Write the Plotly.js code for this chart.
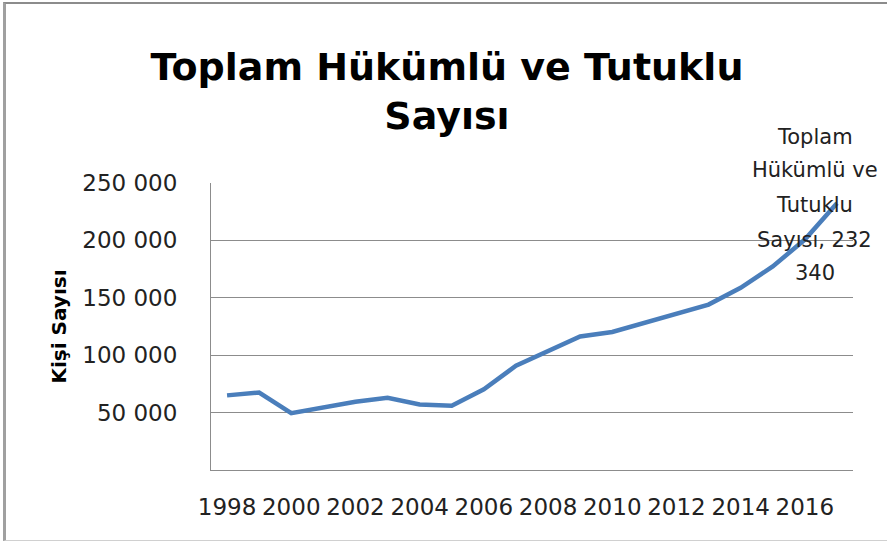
<!DOCTYPE html>
<html><head><meta charset="utf-8">
<script src="https://cdn.plot.ly/plotly-3.0.1.min.js"></script>
<style>
html,body{margin:0;padding:0;background:#fff;}
#wrap{position:absolute;left:3px;top:2px;width:884px;height:539px;border-left:3px solid #a0a0a0;border-top:2px solid #8c8c8c;border-bottom:1px solid #d0d0d0;box-sizing:border-box;}
#chart{position:absolute;left:0;top:0;width:887px;height:542px;}
</style></head>
<body>
<div id="wrap"></div>
<div id="chart"></div>
<script>
const years = [1998,1999,2000,2001,2002,2003,2004,2005,2006,2007,2008,2009,2010,2011,2012,2013,2014,2015,2016,2017];
const values = [65000,67500,49500,55000,59500,63000,57000,55900,70300,90800,103200,116300,120200,128300,136000,144100,158700,177300,200700,232340];
const seriesName = "Toplam Hükümlü ve Tutuklu Sayısı";
const xTickVals = [1998,2000,2002,2004,2006,2008,2010,2012,2014,2016];
const yTickVals = [50000,100000,150000,200000,250000];
const yTickText = ["50 000","100 000","150 000","200 000","250 000"];
const labelLines = ["Toplam","Hükümlü ve","Tutuklu","Sayısı, 232","340"];

const lastX = years[years.length-1], lastY = values[values.length-1];
const shifts = [66,33,-2,-37,-70];
const annotations = labelLines.map((t,i)=>({
  x: lastX, y: lastY, xref:'x', yref:'y', text: t, showarrow:false,
  xshift:-22, yshift: shifts[i], xanchor:'center', yanchor:'middle',
  font:{family:'DejaVu Sans', size:21, color:'#222'}
}));

const trace = {
  x: years, y: values, type:'scatter', mode:'lines', name: seriesName,
  line:{color:'#4a7ebb', width:4.5}, hoverinfo:'x+y'
};
const layout = {
  width:887, height:542,
  margin:{l:211, r:34, t:183, b:72, pad:0},
  paper_bgcolor:'rgba(0,0,0,0)', plot_bgcolor:'rgba(0,0,0,0)',
  showlegend:false,
  title:{text:"Toplam Hükümlü ve Tutuklu<br>Sayısı", x:447/887, xref:'container', xanchor:'center',
    y:1-80/542, yref:'container', yanchor:'top',
    font:{family:'DejaVu Sans', size:38, color:'#000', weight:'bold'}},
  xaxis:{range:[1997.5,2017.5], tickvals:xTickVals, ticktext:xTickVals.map(String),
    showgrid:false, zeroline:false, showline:true, linecolor:'#8c8c8c', linewidth:1,
    ticks:'', ticklabelstandoff:16, tickfont:{family:'DejaVu Sans', size:23, color:'#222'}},
  yaxis:{range:[0,250000], tickvals:yTickVals, ticktext:yTickText,
    showgrid:true, gridcolor:'#8c8c8c', gridwidth:1, zeroline:false,
    showline:true, linecolor:'#8c8c8c', linewidth:1, ticks:'', ticklabelstandoff:28,
    tickfont:{family:'DejaVu Sans', size:23, color:'#222'},
    title:{text:'Kişi Sayısı', standoff:10, font:{family:'DejaVu Sans', size:20, color:'#000', weight:'bold'}}},
  annotations: annotations
};
Plotly.newPlot('chart',[trace],layout,{displayModeBar:false, staticPlot:true});
</script>
</body></html>
